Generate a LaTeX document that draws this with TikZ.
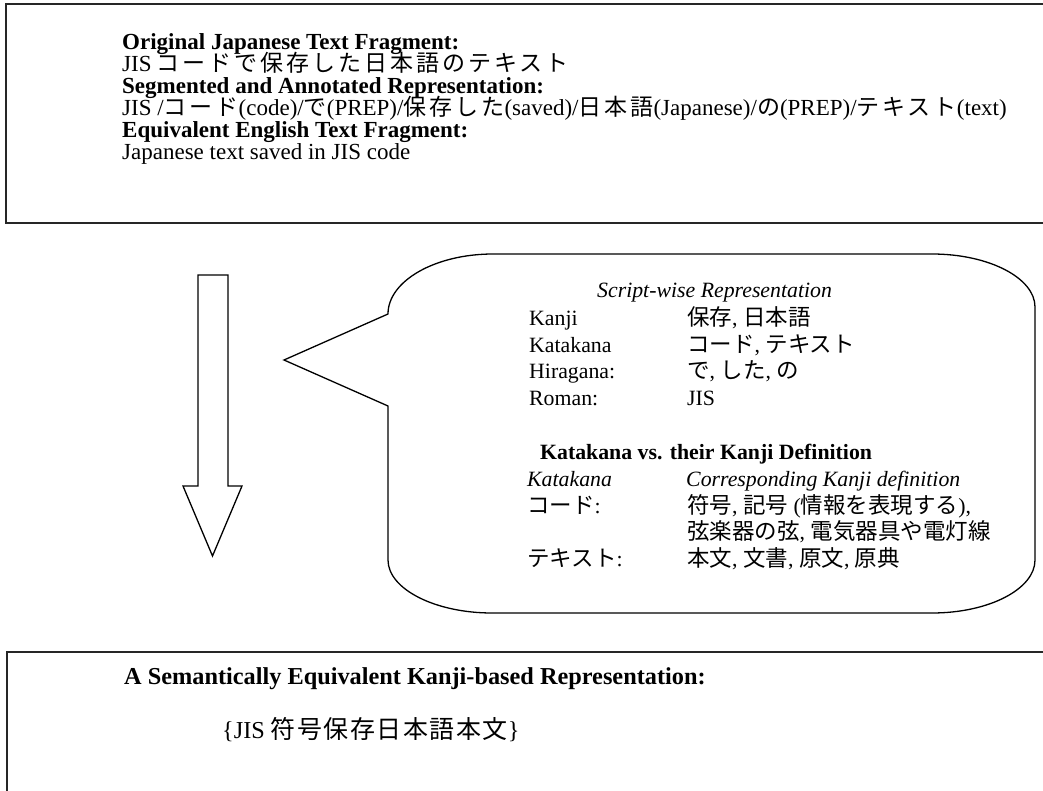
\documentclass[tikz,border=0pt]{standalone}
\usepackage{fontspec}
\setmainfont{Liberation Serif}
\newfontfamily\cjk{Noto Sans CJK JP}
\newfontfamily\cjkt[LetterSpace=13]{Noto Sans CJK JP}
\newfontfamily\cjkb[LetterSpace=6]{Noto Sans CJK JP}
\newcommand\J[1]{{\cjk\fontsize{22.5}{22}\selectfont #1}}
\newcommand\JT[1]{{\cjkt\fontsize{23}{22}\selectfont #1}}
\newcommand\JB[1]{{\cjkb\fontsize{25}{22}\selectfont #1}}
\begin{document}
\begin{tikzpicture}[x=1pt,y=-1pt,
  txt/.style={anchor=base west, inner sep=0pt, font=\fontsize{21.8}{22}\selectfont},
  toptxt/.style={anchor=base west, inner sep=0pt, font=\fontsize{23}{22}\selectfont},
  bottxt/.style={anchor=base west, inner sep=0pt, font=\fontsize{24.3}{22}\selectfont},
  box/.style={draw=black!85, line width=1.6pt},
  outline/.style={draw, line width=1.3pt, line join=miter}]
\useasboundingbox (0,0) rectangle (1043,791);
\clip (0,0) rectangle (1043,791);
% top box
\draw[box] (1070,4) -- (6,4) -- (6,223) -- (1070,223);
\node[toptxt] (t1) at (122,50) {\textbf{Original Japanese Text Fragment:}};
\node[toptxt] (t2) at (122,72) {JIS\hspace{5pt}\JT{コードで保存した日本語のテキスト}};
\node[toptxt] (t3) at (122,94) {\textbf{Segmented and Annotated Representation:}};
\node[toptxt] (t4) at (122,116) {JIS /\JT{コード}(code)/\JT{で}(PREP)/\JT{保存した}(saved)/\JT{日本語}(Japanese)/\JT{の}(PREP)/\JT{テキスト}(text)};
\node[toptxt] (t5) at (122,138) {\textbf{Equivalent English Text Fragment:}};
\node[toptxt] (t6) at (122,160) {Japanese text saved in JIS code};
% down arrow
\draw[outline] (198,275) -- (228,275) -- (228,486) -- (242,486) -- (212.5,556) -- (183,486) -- (198,486) -- cycle;
% callout
\draw[outline] (388,314) .. controls (388,281) and (435,254) .. (493,254)
  -- (932,254) .. controls (989,254) and (1035,278) .. (1035,307)
  -- (1035,560) .. controls (1035,589) and (989,613) .. (932,613)
  -- (492,613) .. controls (435,613) and (388,589) .. (388,560)
  -- (388,406) -- (284,360) -- cycle;
\node[txt] (s0) at (597,298) {\textit{Script-wise Representation}};
\node[txt] (k1) at (529,325) {Kanji};
\node[txt] (v1) at (687,325) {\J{保存}, \J{日本語}};
\node[txt] (k2) at (529,352) {Katakana};
\node[txt] (v2) at (687,352) {\J{コード}, \J{テキスト}};
\node[txt] (k3) at (529,378) {Hiragana:};
\node[txt] (v3) at (687,378) {\J{で}, \J{した}, \J{の}};
\node[txt] (k4) at (529,405) {Roman:};
\node[txt] (v4) at (687,405) {JIS};
\node[txt] (h2) at (540,459) {\textbf{Katakana vs. their Kanji Definition}};
\node[txt] (c1) at (527,486) {\textit{Katakana}};
\node[txt] (c2) at (686,486) {\textit{Corresponding Kanji definition}};
\node[txt] (d1) at (527,513) {\J{コード}:};
\node[txt] (e1) at (687,513) {\J{符号}, \J{記号} (\J{情報を表現する}),};
\node[txt] (e2) at (687,539) {\J{弦楽器の弦}, \J{電気器具や電灯線}};
\node[txt] (d3) at (527,566) {\J{テキスト}:};
\node[txt] (e3) at (687,566) {\J{本文}, \J{文書}, \J{原文}, \J{原典}};
% bottom box
\draw[box] (1070,652) -- (7,652) -- (7,800);
\node[bottxt] (b1) at (124,684) {\textbf{A Semantically Equivalent Kanji-based Representation:}};
\node[bottxt] (b2) at (222,738) {\{JIS\hspace{6pt}\JB{符号保存日本語本文}\}};
\end{tikzpicture}
\end{document}
